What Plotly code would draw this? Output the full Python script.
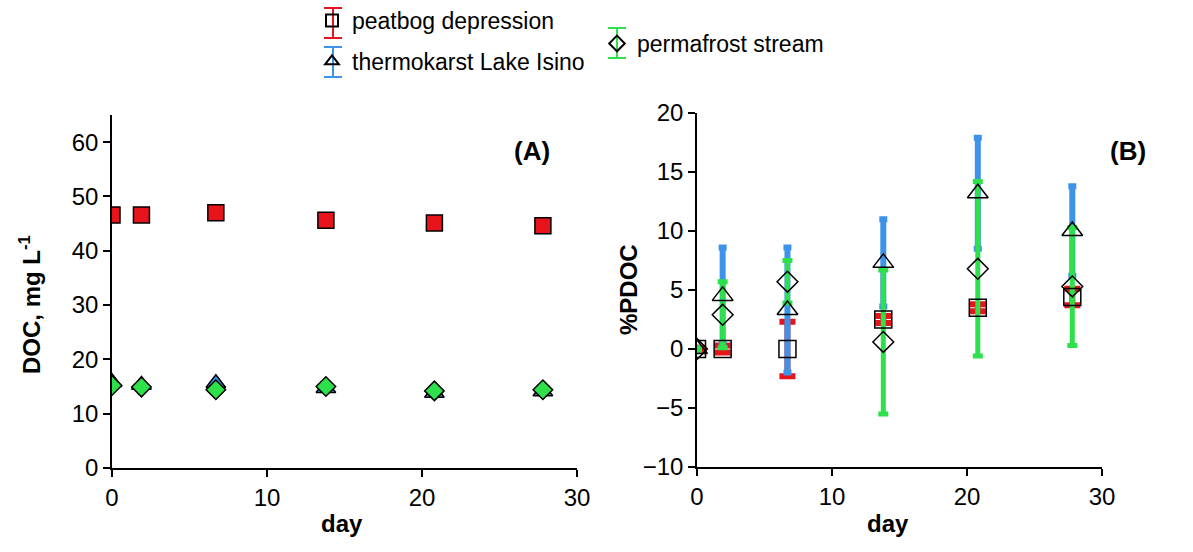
import plotly.graph_objects as go

W, H = 1193, 552

# ---- data ----
days = [0, 1.9, 6.7, 13.8, 20.8, 27.8]
series_names = ["peatbog depression", "thermokarst Lake Isino", "permafrost stream"]

# Panel A: DOC, mg/L
doc_peatbog = [46.6, 46.6, 47.0, 45.6, 45.1, 44.6]
doc_thermokarst = [15.8, 15.3, 15.6, 14.7, 13.8, 14.1]
doc_permafrost = [15.2, 14.9, 14.4, 15.0, 14.2, 14.4]

# Panel B: %PDOC
pdoc_peatbog = [0.0, 0.0, 0.0, 2.5, 3.5, 4.4]
pdoc_peatbog_err = [0.1, 0.3, 2.3, 0.3, 0.3, 0.7]
pdoc_thermokarst = [0.0, 4.5, 3.3, 7.3, 13.2, 10.0]
pdoc_thermokarst_err = [0.1, 4.1, 5.3, 3.7, 4.7, 3.8]
pdoc_permafrost = [0.0, 2.9, 5.7, 0.6, 6.8, 5.3]
pdoc_permafrost_err = [0.1, 2.8, 1.8, 6.1, 7.4, 5.0]

RED = "#e8141c"
BLUE = "#3d93e8"
GREEN = "#2ee04a"
COLORS = [RED, BLUE, GREEN]
FONT = "Liberation Sans, Arial, sans-serif"


def px_x(p):
    return p / W


def px_y(p):
    return 1 - p / H


fig = go.Figure()

# ---- Panel A ----
fig.add_trace(go.Scatter(x=days, y=doc_thermokarst, mode="markers", xaxis="x", yaxis="y",
                         marker=dict(symbol="triangle-up", size=17, color=BLUE,
                                     line=dict(color="black", width=1.5)),
                         showlegend=False))
fig.add_trace(go.Scatter(x=days, y=doc_permafrost, mode="markers", xaxis="x", yaxis="y",
                         marker=dict(symbol="diamond", size=15, color=GREEN,
                                     line=dict(color="black", width=1.5)),
                         showlegend=False))
fig.add_trace(go.Scatter(x=days, y=doc_peatbog, mode="markers", xaxis="x", yaxis="y",
                         marker=dict(symbol="square", size=16, color=RED,
                                     line=dict(color="black", width=1.5)),
                         showlegend=False))

# ---- Panel B: error bars ----
fig.add_trace(go.Scatter(x=days, y=pdoc_peatbog, mode="markers", xaxis="x2", yaxis="y2",
                         marker=dict(size=1, color="rgba(0,0,0,0)"),
                         error_y=dict(type="data", array=pdoc_peatbog_err, color=RED,
                                      thickness=6, width=8),
                         showlegend=False, hoverinfo="skip"))
fig.add_trace(go.Scatter(x=days, y=pdoc_thermokarst, mode="markers", xaxis="x2", yaxis="y2",
                         marker=dict(size=1, color="rgba(0,0,0,0)"),
                         error_y=dict(type="data", array=pdoc_thermokarst_err, color=BLUE,
                                      thickness=6, width=4),
                         showlegend=False, hoverinfo="skip"))
fig.add_trace(go.Scatter(x=days, y=pdoc_permafrost, mode="markers", xaxis="x2", yaxis="y2",
                         marker=dict(size=1, color="rgba(0,0,0,0)"),
                         error_y=dict(type="data", array=pdoc_permafrost_err, color=GREEN,
                                      thickness=5, width=5),
                         showlegend=False, hoverinfo="skip"))

# ---- Panel B: markers (also legend entries) ----
fig.add_trace(go.Scatter(x=days, y=pdoc_peatbog, mode="markers", xaxis="x2", yaxis="y2",
                         name=series_names[0], legend="legend", legendgroup="a",
                         marker=dict(symbol="square-open", size=17, color="black",
                                     line=dict(width=1.5))))
fig.add_trace(go.Scatter(x=days, y=pdoc_thermokarst, mode="markers", xaxis="x2", yaxis="y2",
                         name=series_names[1], legend="legend", legendgroup="b",
                         marker=dict(symbol="triangle-up-open", size=18, color="black",
                                     line=dict(width=1.5))))
fig.add_trace(go.Scatter(x=days, y=pdoc_permafrost, mode="markers", xaxis="x2", yaxis="y2",
                         name=series_names[2], legend="legend2",
                         marker=dict(symbol="diamond-open", size=16, color="black",
                                     line=dict(width=1.5))))

axis_common = dict(showline=True, linecolor="black", linewidth=1.5, ticks="outside",
                   ticklen=7, tickwidth=1.5, tickcolor="black", showgrid=False,
                   zeroline=False, automargin=False,
                   tickfont=dict(family=FONT, size=24, color="black"))

# legend error-bar glyphs (I-bars behind the legend symbols)
legend_bars = [(333, 8, 38), (333, 47, 77), (617, 28, 58)]
shapes = []
for (cx, y0, y1), col in zip(legend_bars, COLORS):
    shapes.append(dict(type="line", xref="paper", yref="paper", x0=px_x(cx), x1=px_x(cx),
                       y0=px_y(y0), y1=px_y(y1), line=dict(color=col, width=2), layer="below"))
    for yy in (y0, y1):
        shapes.append(dict(type="line", xref="paper", yref="paper", x0=px_x(cx - 9),
                           x1=px_x(cx + 9), y0=px_y(yy), y1=px_y(yy),
                           line=dict(color=col, width=2), layer="below"))


def label(text, x, y, size=24, angle=0):
    return dict(text=text, x=px_x(x), y=px_y(y), xref="paper", yref="paper",
                xanchor="center", yanchor="middle", showarrow=False, textangle=angle,
                font=dict(family=FONT, size=size, color="black"))


fig.update_layout(
    width=W, height=H,
    margin=dict(l=0, r=0, t=0, b=0, autoexpand=False),
    paper_bgcolor="white", plot_bgcolor="white",
    font=dict(family=FONT, color="black"),
    xaxis=dict(domain=[px_x(112), px_x(577)], range=[0, 30], tickvals=[0, 10, 20, 30],
               anchor="y", **axis_common),
    yaxis=dict(domain=[px_y(468), px_y(115)], range=[0, 65], tickvals=[0, 10, 20, 30, 40, 50, 60],
               anchor="x", **axis_common),
    xaxis2=dict(domain=[px_x(697), px_x(1102)], range=[0, 30], tickvals=[0, 10, 20, 30],
                anchor="y2", **axis_common),
    yaxis2=dict(domain=[px_y(467), px_y(113)], range=[-10, 20],
                tickvals=[-10, -5, 0, 5, 10, 15, 20], anchor="x2", **axis_common),
    legend=dict(x=px_x(312), y=px_y(-1), xanchor="left", yanchor="top",
                bgcolor="rgba(0,0,0,0)", itemwidth=30, tracegroupgap=8,
                itemsizing="constant",
                font=dict(family=FONT, size=23, color="black")),
    legend2=dict(x=px_x(597), y=px_y(22), xanchor="left", yanchor="top",
                 bgcolor="rgba(0,0,0,0)", itemwidth=30, itemsizing="constant",
                 font=dict(family=FONT, size=23, color="black")),
    shapes=shapes,
    annotations=[
        label("<b>(A)</b>", 532, 151, size=26),
        label("<b>(B)</b>", 1128, 151, size=26),
        label("<b>DOC, mg L<sup>-1</sup></b>", 30, 305, angle=-90),
        label("<b>%PDOC</b>", 628, 290, angle=-90),
        label("<b>day</b>", 342, 523),
        label("<b>day</b>", 888, 523),
    ],
)

fig.write_html("out.html", config={"displayModeBar": False},
               post_script="document.body.style.margin='0px';")
